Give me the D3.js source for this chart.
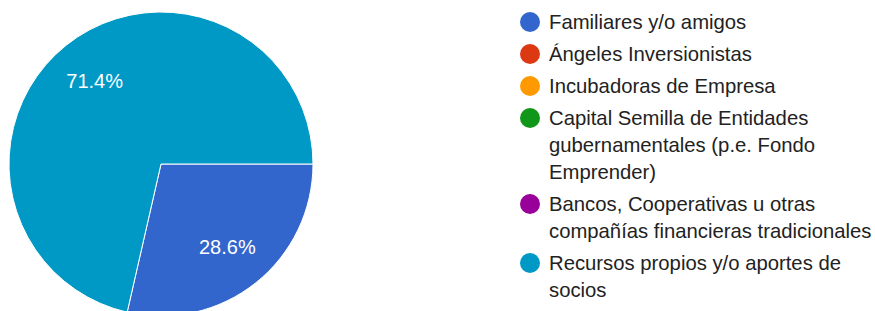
<!doctype html>
<html lang="es">
  <head>
    <meta charset="UTF-8" />
    <title>Fuentes de financiación</title>
    <script src="https://d3js.org/d3.v7.min.js"></script>
    <style>
      html,
      body {
        margin: 0;
        padding: 0;
        background: #fff;
        overflow: hidden;
      }
      text {
        font-family: Arial, "Liberation Sans", sans-serif;
      }
    </style>
  </head>
  <body>
    <svg id="chart" width="875" height="311"></svg>

    <script>
      // legend labels (with their line breaks), response counts and colours
      const categories = [
        "Familiares y/o amigos",
        "Ángeles Inversionistas",
        "Incubadoras de Empresa",
        "Capital Semilla de Entidades\ngubernamentales (p.e. Fondo\nEmprender)",
        "Bancos, Cooperativas u otras\ncompañías financieras tradicionales",
        "Recursos propios y/o aportes de\nsocios",
      ];
      const counts = [2, 0, 0, 0, 0, 5];
      const colors = ["#3366cc", "#dc3912", "#ff9900", "#109618", "#990099", "#0099c6"];

      const svg = d3.select("#chart");
      const cx = 161,
        cy = 164,
        radius = 152;

      const data = categories.map((c, i) => ({ name: c, value: counts[i], color: colors[i] }));
      const total = d3.sum(counts);

      // pie starts at 3 o'clock, clockwise
      const pie = d3
        .pie()
        .sort(null)
        .value((d) => d.value)
        .startAngle(Math.PI / 2)
        .endAngle(Math.PI / 2 + 2 * Math.PI);

      const arc = d3.arc().innerRadius(0).outerRadius(radius);
      const labelArc = d3.arc().innerRadius(radius * 0.7).outerRadius(radius * 0.7);

      const arcs = pie(data).filter((d) => d.data.value > 0);

      const g = svg.append("g").attr("transform", `translate(${cx},${cy})`);

      g.selectAll("path")
        .data(arcs)
        .enter()
        .append("path")
        .attr("d", arc)
        .attr("fill", (d) => d.data.color)
        .attr("stroke", "#fff")
        .attr("stroke-width", 1);

      g.selectAll("text")
        .data(arcs)
        .enter()
        .append("text")
        .attr("transform", (d) => `translate(${labelArc.centroid(d)})`)
        .attr("text-anchor", "middle")
        .attr("dy", "0.35em")
        .attr("fill", "#fff")
        .style("font-size", "20px")
        .text((d) => ((d.data.value / total) * 100).toFixed(1) + "%");

      // legend
      const lineH = 27,
        gap = 5;
      let y = 22;
      const legend = svg.append("g");
      data.forEach((d) => {
        const lines = d.name.split("\n");
        legend
          .append("circle")
          .attr("cx", 530)
          .attr("cy", y)
          .attr("r", 10)
          .attr("fill", d.color);
        const t = legend
          .append("text")
          .attr("x", 549)
          .attr("y", y)
          .attr("fill", "#222")
          .style("font-size", "20.3px");
        lines.forEach((l, i) => {
          t.append("tspan")
            .attr("x", 549)
            .attr("dy", i === 0 ? "0.35em" : lineH)
            .text(l);
        });
        y += lines.length * lineH + gap;
      });
    </script>
  </body>
</html>
